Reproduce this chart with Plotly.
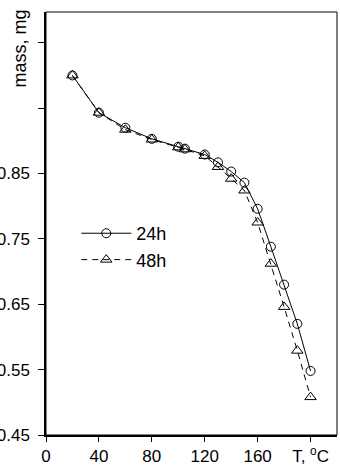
import plotly.graph_objects as go

temps = [20, 40, 60, 80, 100, 105, 120, 130, 140, 150, 160, 170, 180, 190, 200]
mass_24h = [1.000, 0.943, 0.920, 0.903, 0.891, 0.888, 0.879, 0.867, 0.853, 0.836, 0.796, 0.738, 0.680, 0.620, 0.548]
mass_48h = [1.000, 0.943, 0.917, 0.902, 0.890, 0.887, 0.877, 0.860, 0.842, 0.824, 0.775, 0.712, 0.646, 0.579, 0.508]

x_tickvals = [0, 40, 80, 120, 160, 200]
x_ticktext = ["0", "40", "80", "120", "160", "T, <sup>o</sup>C"]
y_tickvals = [0.45, 0.55, 0.65, 0.75, 0.85, 0.95, 1.05]
y_ticktext = ["0.45", "0.55", "0.65", "0.75", "0.85", "", ""]

FONT = "Liberation Sans, Arial, sans-serif"

fig = go.Figure()
fig.add_trace(go.Scatter(
    x=temps, y=mass_24h, name="24h", mode="lines+markers",
    line=dict(color="black", width=1),
    marker=dict(symbol="circle-open", size=9, color="black", line=dict(width=1)),
))
fig.add_trace(go.Scatter(
    x=temps, y=mass_48h, name="48h", mode="lines+markers",
    line=dict(color="black", width=1, dash="6px,5px"),
    marker=dict(symbol="triangle-up-open", size=10, color="black", line=dict(width=1)),
))

fig.update_layout(
    width=340, height=470,
    margin=dict(l=46, r=3, t=12, b=35),
    paper_bgcolor="white", plot_bgcolor="white",
    font=dict(family=FONT, size=17, color="black"),
    showlegend=True,
    legend=dict(x=0.104, y=0.52, xanchor="left", yanchor="top",
                bgcolor="rgba(0,0,0,0)", itemwidth=50,
                font=dict(size=18)),
    xaxis=dict(range=[0, 220], tickvals=x_tickvals, ticktext=x_ticktext,
               showgrid=False, zeroline=False, showline=True, linecolor="black",
               linewidth=2, ticks="outside", ticklen=5, tickcolor="black",
               automargin=False, tickfont=dict(size=17)),
    yaxis=dict(range=[0.45, 1.097], tickvals=y_tickvals, ticktext=y_ticktext,
               showgrid=False, zeroline=False, showline=True, linecolor="black",
               linewidth=1.5, ticks="outside", ticklen=6, tickcolor="black",
               automargin=False, ticklabelstandoff=5, tickfont=dict(size=17)),
    shapes=[dict(type="rect", xref="paper", yref="paper", x0=0, x1=1, y0=0, y1=1,
                 line=dict(color="black", width=1), layer="above")],
    annotations=[dict(text="mass, mg", textangle=-90, xref="paper", yref="paper",
                      x=-0.091, y=0.9125, xanchor="center", yanchor="middle",
                      showarrow=False, font=dict(size=18))],
)

fig.write_html("out.html")
